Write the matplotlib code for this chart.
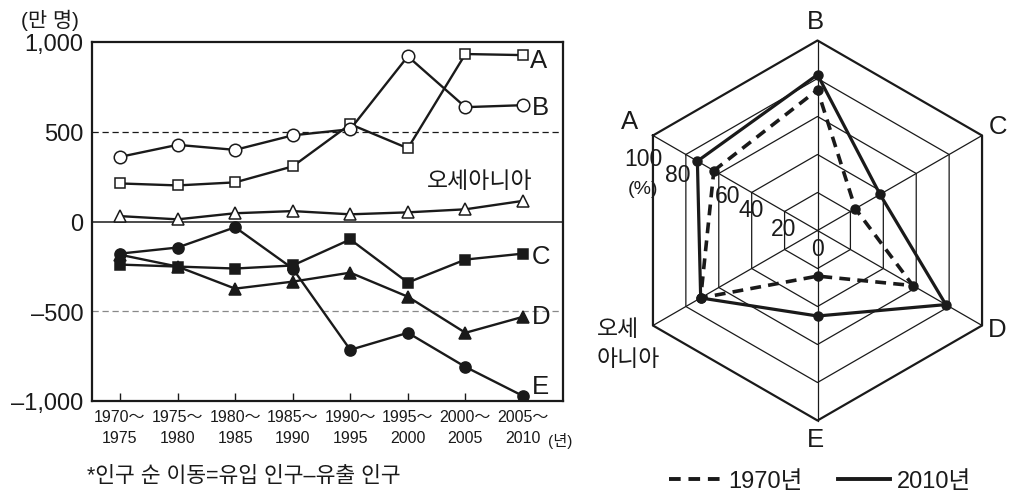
import numpy as np
import matplotlib
matplotlib.use('Agg')
import matplotlib.pyplot as plt
from matplotlib.lines import Line2D

plt.rcParams['font.family'] = ['Liberation Sans', 'Noto Sans CJK KR', 'DejaVu Sans']

W, H = 1026, 502
INK = '#1a1a1a'

# line chart data (만 명)
periods = ['1970～\n1975', '1975～\n1980', '1980～\n1985', '1985～\n1990',
           '1990～\n1995', '1995～\n2000', '2000～\n2005', '2005～\n2010']
net_A = [212, 201, 218, 307, 542, 408, 933, 927]
net_B = [360, 427, 399, 480, 514, 920, 637, 648]
net_oceania = [30, 12, 46, 58, 40, 51, 68, 115]
net_C = [-240, -251, -262, -245, -100, -340, -212, -179]
net_D = [-185, -251, -374, -335, -285, -419, -620, -531]
net_E = [-179, -145, -32, -262, -715, -620, -810, -972]

# radar chart data (%)
regions = ['A', 'B', 'C', 'D', 'E', '오세아니아']
urban_1970 = [63, 74, 23, 58, 24, 71]
urban_2010 = [73, 82, 38, 78, 45, 71]
rings = [20, 40, 60, 80, 100]


def px(x, y):
    return x / W, 1 - y / H


fig = plt.figure(figsize=(W / 100, H / 100), dpi=100)

# ---------------- line chart ----------------
ax = fig.add_axes([92 / W, 1 - 402 / H, 471 / W, 359 / H])
x = np.arange(len(periods))

ax.axhline(0, color=INK, lw=1.1, zorder=1)
ax.axhline(500, color=INK, lw=0.9, ls=(0, (5, 3)), zorder=1)
ax.axhline(-500, color='#888888', lw=0.9, ls=(0, (5, 3)), zorder=1)

lkw = dict(color=INK, lw=1.7, mec=INK, mew=1.1, zorder=3)
ax.plot(x, net_A, marker='s', ms=7, mfc='white', **lkw)
ax.plot(x, net_B, marker='o', ms=9, mfc='white', **lkw)
ax.plot(x, net_oceania, marker='^', ms=8.5, mfc='white', **lkw)
ax.plot(x, net_C, marker='s', ms=6.5, mfc=INK, **lkw)
ax.plot(x, net_D, marker='^', ms=8, mfc=INK, **lkw)
ax.plot(x, net_E, marker='o', ms=8, mfc=INK, **lkw)

ax.set_xlim(-0.486, 7.695)
ax.set_ylim(-1000, 1000)
ax.set_yticks([1000, 500, 0, -500, -1000])
ax.set_yticklabels(['1,000', '500', '0', '–500', '–1,000'], fontsize=17, color=INK)
ax.tick_params(axis='y', length=0, pad=6)
ax.set_xticks(x)
ax.set_xticklabels(periods, fontsize=11.5, color=INK, linespacing=1.45)
ax.tick_params(axis='x', direction='in', length=6, width=1, pad=6, color=INK)
for s in ax.spines.values():
    s.set_linewidth(1.6)
    s.set_color(INK)

fig.text(*px(50, 20), '(만 명)', fontsize=15, ha='center', va='center', color=INK)
fig.text(*px(548, 441), '(년)', fontsize=11, ha='left', va='center', color=INK)
for lab, (lx, ly) in zip(['A', 'B', 'C', 'D', 'E'],
                         [(530, 61), (532, 108), (532, 257), (532, 317), (532, 387)]):
    fig.text(*px(lx, ly), lab, fontsize=18.5, ha='left', va='center', color=INK)
fig.text(*px(480, 181), '오세아니아', fontsize=16.5, ha='center', va='center', color=INK)
fig.text(*px(87, 477), '*인구 순 이동=유입 인구–유출 인구', fontsize=15.5,
         ha='left', va='center', color=INK)

# ---------------- radar chart ----------------
cx, cy, R = 817.5, 231.5, 190.0
rx = fig.add_axes([600 / W, 1 - 470 / H, 426 / W, 470 / H])
rx.set_xlim((600 - cx) / R, (1026 - cx) / R)
rx.set_ylim((cy - 470) / R, cy / R)
rx.axis('off')

ang = np.deg2rad([150, 90, 30, -30, -90, -150])
ux, uy = np.cos(ang), np.sin(ang)

for r in rings:
    f = r / 100
    rx.plot(np.r_[ux, ux[0]] * f, np.r_[uy, uy[0]] * f, color=INK,
            lw=1.6 if r == 100 else 0.9, zorder=1)
for vx, vy in zip(ux, uy):
    rx.plot([0, vx], [0, vy], color=INK, lw=0.9, zorder=1)

for vals, ls, lw in [(urban_1970, (0, (3, 2)), 2.6), (urban_2010, '-', 2.3)]:
    v = np.array(vals) / 100
    rx.plot(np.r_[ux * v, ux[0] * v[0]], np.r_[uy * v, uy[0] * v[0]],
            color=INK, ls=ls, lw=lw, zorder=3)
    rx.plot(ux * v, uy * v, ls='none', marker='o', ms=6.5, color=INK, zorder=4)

ring_labels = ['0'] + [str(r) for r in rings]
ring_offsets = [(0, -18), (-1, -17), (0, -17), (9, -22), (-8, -20), (-10, -23)]
for lab, r, (ox, oy) in zip(ring_labels, [0] + rings, ring_offsets):
    f = r / 100
    rx.annotate(lab, (ux[0] * f, uy[0] * f), xytext=(ox, oy),
                textcoords='offset pixels', fontsize=16.5, ha='center',
                va='center', color=INK, zorder=5)
rx.annotate('(%)', (ux[0], uy[0]), xytext=(-10, -53), textcoords='offset pixels',
            fontsize=14, ha='center', va='center', color=INK)

cat_pos = [(630, 122), (815, 22), (998, 127), (997, 330), (815, 440)]
for lab, (lx, ly) in zip(regions[:5], cat_pos):
    fig.text(*px(lx, ly), lab, fontsize=18.5, ha='center', va='center', color=INK)
fig.text(*px(597, 330), '오세', fontsize=16.5, ha='left', va='center', color=INK)
fig.text(*px(597, 359), '아니아', fontsize=16.5, ha='left', va='center', color=INK)

handles = [Line2D([], [], color=INK, ls=(0, (3, 2)), lw=2.8),
           Line2D([], [], color=INK, ls='-', lw=2.8)]
fig.legend(handles, ['1970년', '2010년'], loc='center',
           bbox_to_anchor=px(820, 482), ncol=2, frameon=False, fontsize=17,
           handlelength=2.2, handletextpad=0.3, columnspacing=1.5,
           labelcolor=INK)

fig.savefig('out.png', dpi=100)
